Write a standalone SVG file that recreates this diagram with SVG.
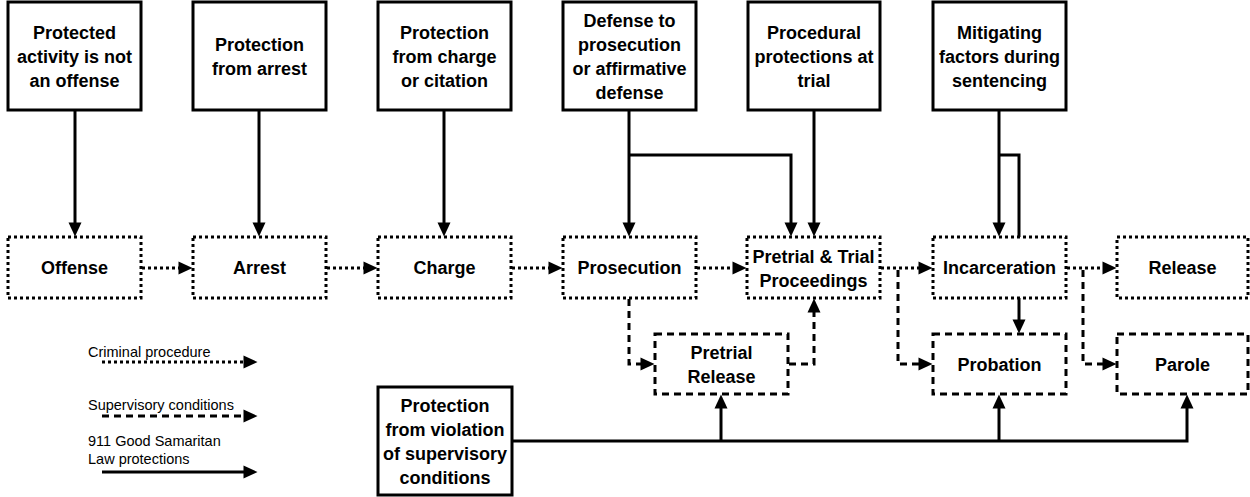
<svg xmlns="http://www.w3.org/2000/svg" width="1250" height="497" viewBox="0 0 1250 497">
<style>
  .bx{fill:#fff;stroke:#000;stroke-width:3}
  .dot{fill:#fff;stroke:#000;stroke-width:3;stroke-dasharray:3 3}
  .dsh{fill:#fff;stroke:#000;stroke-width:3;stroke-dasharray:7 5}
  .t{font-family:"Liberation Sans",Arial,sans-serif;font-weight:bold;font-size:18px;fill:#000;text-anchor:middle}
  .lg{font-family:"Liberation Sans",Arial,sans-serif;font-size:14.5px;fill:#000}
  .c{fill:none;stroke:#000;stroke-width:3}
  .cdot{fill:none;stroke:#000;stroke-width:3;stroke-dasharray:3 3}
  .cdsh{fill:none;stroke:#000;stroke-width:3;stroke-dasharray:7 5}
</style>
<defs>
  <marker id="ah" markerUnits="userSpaceOnUse" markerWidth="15" markerHeight="14" refX="0.5" refY="7" orient="auto" overflow="visible">
    <path d="M0,0.5 L14,7 L0,13.5 Z" fill="#000"/>
  </marker>
</defs>
<rect width="1250" height="497" fill="#fff"/>

<g id="connectors">
  <path class="c" d="M75,110 V223" marker-end="url(#ah)"/>
  <path class="c" d="M259,110 V223" marker-end="url(#ah)"/>
  <path class="c" d="M444,110 V223" marker-end="url(#ah)"/>
  <path class="c" d="M629,110 V223" marker-end="url(#ah)"/>
  <path class="c" d="M629,155 H791 V223" marker-end="url(#ah)"/>
  <path class="c" d="M814,110 V223" marker-end="url(#ah)"/>
  <path class="c" d="M999,110 V223" marker-end="url(#ah)"/>
  <path class="c" d="M999,155 H1019 V237"/>
  <path class="c" d="M1019,298 V320" marker-end="url(#ah)"/>
  <path class="c" d="M512,441 H1187 V408" marker-end="url(#ah)"/>
  <path class="c" d="M721,441 V408" marker-end="url(#ah)"/>
  <path class="c" d="M999,441 V408" marker-end="url(#ah)"/>

  <path class="cdot" d="M142,268 H179" marker-end="url(#ah)"/>
  <path class="cdot" d="M327,268 H364" marker-end="url(#ah)"/>
  <path class="cdot" d="M512,268 H549" marker-end="url(#ah)"/>
  <path class="cdot" d="M697,268 H733" marker-end="url(#ah)"/>
  <path class="cdot" d="M881,268 H919" marker-end="url(#ah)"/>
  <path class="cdot" d="M1067,268 H1103" marker-end="url(#ah)"/>

  <path class="cdsh" d="M629,299 V364 H641" marker-end="url(#ah)"/>
  <path class="cdsh" d="M789,364 H814 V312" marker-end="url(#ah)"/>
  <path class="cdsh" d="M898,270 V364 H919" marker-end="url(#ah)"/>
  <path class="cdsh" d="M1083,270 V364 H1103" marker-end="url(#ah)"/>
</g>

<g id="legend">
  <text class="lg" x="88" y="357">Criminal procedure</text>
  <path class="cdot" d="M102,362 H244" marker-end="url(#ah)"/>
  <text class="lg" x="88" y="410">Supervisory conditions</text>
  <path class="cdsh" d="M102,416 H244" marker-end="url(#ah)"/>
  <text class="lg" x="88" y="446">911 Good Samaritan</text>
  <text class="lg" x="88" y="464">Law protections</text>
  <path class="c" d="M102,472 H244" marker-end="url(#ah)"/>
</g>

<g id="n-protected-activity">
  <rect class="bx" x="8" y="2" width="133" height="108"/>
  <text class="t" x="74.5" y="38.5">Protected</text>
  <text class="t" x="74.5" y="62.5">activity is not</text>
  <text class="t" x="74.5" y="86.5">an offense</text>
</g>
<g id="n-protection-arrest">
  <rect class="bx" x="193" y="2" width="133" height="108"/>
  <text class="t" x="259.5" y="50.5">Protection</text>
  <text class="t" x="259.5" y="74.5">from arrest</text>
</g>
<g id="n-protection-charge">
  <rect class="bx" x="378" y="2" width="133" height="108"/>
  <text class="t" x="444.5" y="38.5">Protection</text>
  <text class="t" x="444.5" y="62.5">from charge</text>
  <text class="t" x="444.5" y="86.5">or citation</text>
</g>
<g id="n-defense">
  <rect class="bx" x="563" y="2" width="133" height="108"/>
  <text class="t" x="629.5" y="26.5">Defense to</text>
  <text class="t" x="629.5" y="50.5">prosecution</text>
  <text class="t" x="629.5" y="74.5">or affirmative</text>
  <text class="t" x="629.5" y="98.5">defense</text>
</g>
<g id="n-procedural">
  <rect class="bx" x="748" y="2" width="132" height="108"/>
  <text class="t" x="814" y="38.5">Procedural</text>
  <text class="t" x="814" y="62.5">protections at</text>
  <text class="t" x="814" y="86.5">trial</text>
</g>
<g id="n-mitigating">
  <rect class="bx" x="933" y="2" width="133" height="108"/>
  <text class="t" x="999.5" y="38.5">Mitigating</text>
  <text class="t" x="999.5" y="62.5">factors during</text>
  <text class="t" x="999.5" y="86.5">sentencing</text>
</g>

<g id="n-offense">
  <rect class="dot" x="8" y="237" width="133" height="61"/>
  <text class="t" x="74.5" y="274">Offense</text>
</g>
<g id="n-arrest">
  <rect class="dot" x="193" y="237" width="133" height="61"/>
  <text class="t" x="259.5" y="274">Arrest</text>
</g>
<g id="n-charge">
  <rect class="dot" x="378" y="237" width="133" height="61"/>
  <text class="t" x="444.5" y="274">Charge</text>
</g>
<g id="n-prosecution">
  <rect class="dot" x="563" y="237" width="133" height="61"/>
  <text class="t" x="629.5" y="274">Prosecution</text>
</g>
<g id="n-pretrial-trial">
  <rect class="dot" x="747" y="237" width="133" height="61"/>
  <text class="t" x="813.5" y="262.5">Pretrial &amp; Trial</text>
  <text class="t" x="813.5" y="286.5">Proceedings</text>
</g>
<g id="n-incarceration">
  <rect class="dot" x="933" y="237" width="133" height="61"/>
  <text class="t" x="999.5" y="274">Incarceration</text>
</g>
<g id="n-release">
  <rect class="dot" x="1117" y="237" width="131" height="61"/>
  <text class="t" x="1182.5" y="274">Release</text>
</g>

<g id="n-pretrial-release">
  <rect class="dsh" x="655" y="334" width="133" height="60"/>
  <text class="t" x="721.5" y="358.5">Pretrial</text>
  <text class="t" x="721.5" y="382.5">Release</text>
</g>
<g id="n-probation">
  <rect class="dsh" x="933" y="334" width="133" height="60"/>
  <text class="t" x="999.5" y="370.5">Probation</text>
</g>
<g id="n-parole">
  <rect class="dsh" x="1117" y="334" width="131" height="60"/>
  <text class="t" x="1182.5" y="370.5">Parole</text>
</g>

<g id="n-protection-violation">
  <rect class="bx" x="378" y="387" width="134" height="108"/>
  <text class="t" x="445" y="411.5">Protection</text>
  <text class="t" x="445" y="435.5">from violation</text>
  <text class="t" x="445" y="459.5">of supervisory</text>
  <text class="t" x="445" y="483.5">conditions</text>
</g>
</svg>
